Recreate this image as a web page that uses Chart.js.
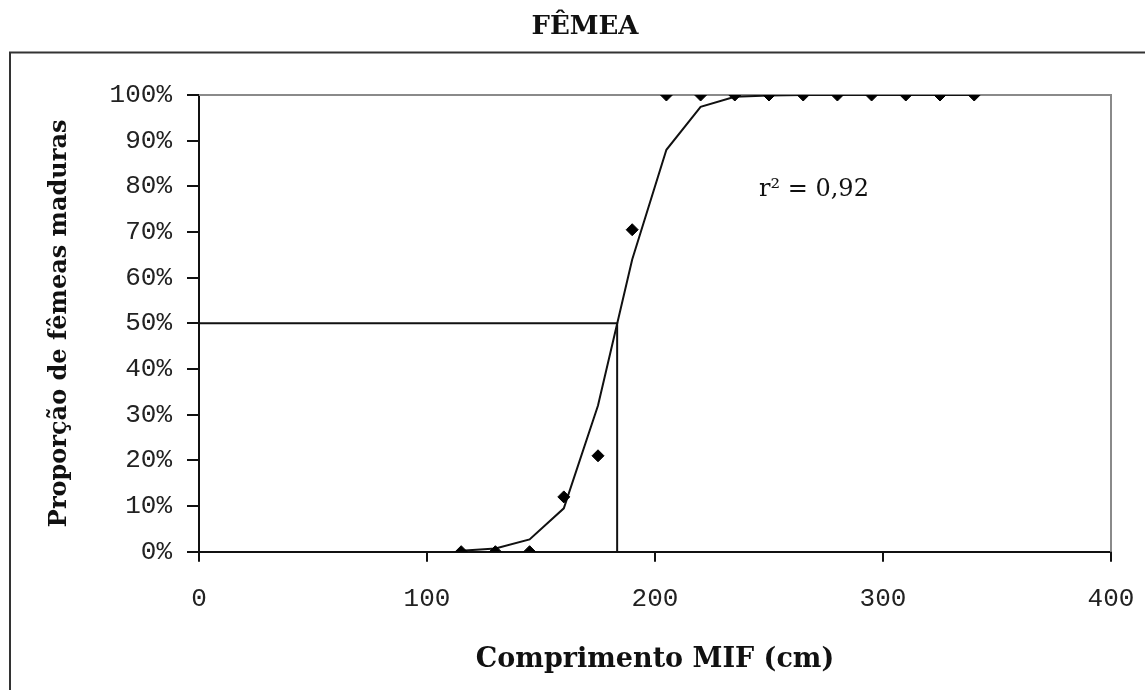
<!DOCTYPE html>
<html>
<head>
<meta charset="utf-8">
<script src="https://cdn.jsdelivr.net/npm/chart.js@4.4.1/dist/chart.umd.min.js"></script>
<style>
  html, body { margin: 0; padding: 0; background: #fff; }
  canvas { display: block; }
</style>
</head>
<body>
<canvas id="myChart" width="1145" height="690"></canvas>
<script>
// observed proportion of mature females per length class (cm)
var obsLength = [115, 130, 145, 160, 175, 190, 205, 220, 235, 250, 265, 280, 295, 310, 325, 340];
var obsMature = [0, 0, 0, 12, 21, 70.5, 100, 100, 100, 100, 100, 100, 100, 100, 100, 100];

// fitted curve
var fitLength = [115, 130, 145, 160, 175, 190, 205, 220, 235, 250, 265, 280, 295, 310, 325, 340];
var fitMature = [0.2, 0.7, 2.7, 9.5, 32, 64, 88, 97.4, 99.6, 99.9, 100, 100, 100, 100, 100, 100];

// L50 guide lines
var l50 = 183.4;
var refLength = [0, l50, l50];
var refMature = [50, 50, 0];

var xTicks = [0, 100, 200, 300, 400];
var yTicks = [0, 10, 20, 30, 40, 50, 60, 70, 80, 90, 100];

function toPoints(xs, ys) {
  var out = [];
  for (var i = 0; i < xs.length; i++) out.push({x: xs[i], y: ys[i]});
  return out;
}

var framePlugin = {
  id: 'frame',
  beforeDraw: function (chart) {
    var c = chart.ctx;
    c.save();
    c.fillStyle = '#fff';
    c.fillRect(0, 0, chart.width, chart.height);
    c.strokeStyle = '#333';
    c.lineWidth = 2;
    c.strokeRect(10, 52.5, chart.width + 20, chart.height);
    c.restore();
  },
  beforeDatasetsDraw: function (chart) {
    var a = chart.chartArea, c = chart.ctx;
    c.save();
    c.strokeStyle = '#8a8a8a';
    c.lineWidth = 2;
    c.beginPath();
    c.moveTo(a.left, a.top);
    c.lineTo(a.right, a.top);
    c.lineTo(a.right, a.bottom);
    c.stroke();
    c.restore();
  },
  afterDraw: function (chart) {
    var c = chart.ctx;
    c.save();
    c.fillStyle = '#111';
    c.font = '24px "DejaVu Serif"';
    c.textBaseline = 'alphabetic';
    c.fillText('r² = 0,92', 759, 196);
    c.restore();
  }
};

var ctx = document.getElementById('myChart').getContext('2d');

var myChart = new Chart(ctx, {
  type: 'scatter',
  data: {
    datasets: [
      {
        label: 'Observado',
        data: toPoints(obsLength, obsMature),
        pointStyle: 'rectRot',
        pointRadius: 6,
        backgroundColor: '#000',
        borderColor: '#000',
        borderWidth: 1,
        showLine: false,
        order: 0
      },
      {
        label: 'Ajuste',
        data: toPoints(fitLength, fitMature),
        showLine: true,
        borderColor: '#111',
        borderWidth: 2,
        pointRadius: 0,
        tension: 0,
        order: 1
      },
      {
        label: 'L50',
        data: toPoints(refLength, refMature),
        showLine: true,
        borderColor: '#111',
        borderWidth: 2,
        pointRadius: 0,
        tension: 0,
        order: 2
      }
    ]
  },
  options: {
    responsive: false,
    animation: false,
    layout: {
      padding: { left: 59, right: 34, top: 0, bottom: 0 }
    },
    plugins: {
      legend: { display: false },
      tooltip: { enabled: false },
      title: {
        display: true,
        text: 'FÊMEA',
        color: '#111',
        font: { family: '"DejaVu Serif"', size: 26, weight: 'bold' },
        padding: { top: 12, bottom: 51.8 }
      }
    },
    scales: {
      x: {
        type: 'linear',
        min: 0,
        max: 400,
        afterBuildTicks: function (axis) {
          axis.ticks = xTicks.map(function (v) { return {value: v}; });
        },
        afterFit: function (axis) {
          axis.height = 138.3;
          axis.paddingLeft = 0;
          axis.paddingRight = 0;
        },
        border: { display: true, color: '#111', width: 2 },
        grid: { display: true, drawOnChartArea: false, drawTicks: true, tickLength: 10, color: '#111', lineWidth: 2 },
        ticks: {
          color: '#222',
          padding: 22,
          maxRotation: 0,
          font: { family: '"Liberation Mono"', size: 26 }
        },
        title: {
          display: true,
          text: 'Comprimento MIF (cm)',
          color: '#111',
          font: { family: '"DejaVu Serif"', size: 27, weight: 'bold' },
          padding: { top: 0, bottom: 14 }
        }
      },
      y: {
        type: 'linear',
        min: 0,
        max: 100,
        afterBuildTicks: function (axis) {
          axis.ticks = yTicks.map(function (v) { return {value: v}; });
        },
        afterFit: function (axis) {
          axis.width = 140;
          axis.paddingTop = 0;
          axis.paddingBottom = 0;
        },
        border: { display: true, color: '#111', width: 2 },
        grid: { display: true, drawOnChartArea: false, drawTicks: true, tickLength: 12, color: '#111', lineWidth: 2 },
        ticks: {
          color: '#222',
          padding: 15,
          font: { family: '"Liberation Mono"', size: 26 },
          callback: function (v) { return v + '%'; }
        },
        title: {
          display: true,
          text: 'Proporção de fêmeas maduras',
          color: '#111',
          font: { family: '"DejaVu Serif"', size: 24, weight: 'bold' },
          padding: { top: -13.4, bottom: 0 }
        }
      }
    }
  },
  plugins: [framePlugin]
});
</script>
</body>
</html>
